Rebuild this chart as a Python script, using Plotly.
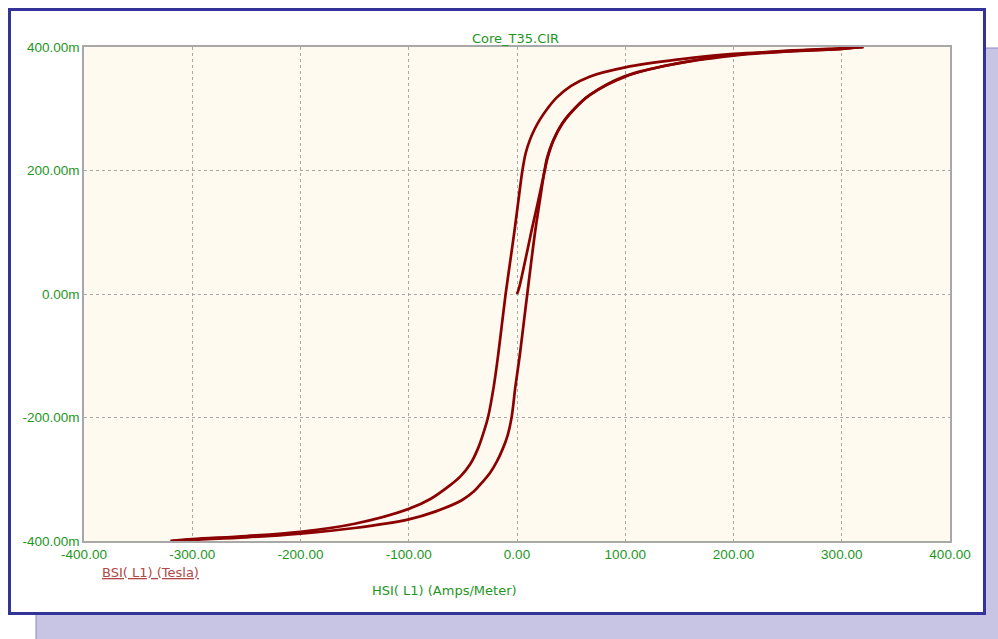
import plotly.graph_objects as go

# ---- data ----
h_initial = [0, 1.8, 7.7, 13.6, 19.5, 25, 28.5, 33.5, 42, 52, 67, 100, 150, 200, 250, 300, 320]
b_initial = [0, 0.009, 0.055, 0.104, 0.150, 0.195, 0.222, 0.248, 0.276, 0.298, 0.322, 0.353, 0.374,
             0.387, 0.394, 0.398, 0.400]

h_desc = [320, 300, 250, 200, 150, 100, 67, 50, 36.6, 28, 21, 16, 12, 8, 5, 1.2, -2.5, -6.5, -10.5,
          -14, -17.5, -21.5, -26.8, -31, -36, -43, -52, -62, -80, -100, -150, -200, -250, -300, -320]
b_desc = [0.400, 0.397, 0.393, 0.389, 0.380, 0.367, 0.352, 0.337, 0.318, 0.300, 0.282, 0.266, 0.250,
          0.228, 0.200, 0.150, 0.100, 0.050, 0.0, -0.050, -0.100, -0.150, -0.200, -0.225, -0.250,
          -0.275, -0.295, -0.310, -0.332, -0.348, -0.372, -0.385, -0.392, -0.397, -0.400]

h_asc = [-320, -300, -250, -200, -150, -100, -75, -51, -40, -32.6, -25, -18.8, -13, -8.5, -5, -1.5,
         2.5, 6, 9.5, 13, 17, 21, 25, 28, 33.5, 42, 52, 67, 100, 144, 200, 250, 300, 320]
b_asc = [-0.400, -0.398, -0.394, -0.388, -0.379, -0.365, -0.352, -0.334, -0.320, -0.306, -0.290,
         -0.272, -0.250, -0.228, -0.200, -0.150, -0.100, -0.050, 0.0, 0.050, 0.104, 0.150, 0.195,
         0.222, 0.249, 0.277, 0.298, 0.322, 0.352, 0.372, 0.386, 0.393, 0.397, 0.400]

x_tickvals = [-400, -300, -200, -100, 0, 100, 200, 300, 400]
x_ticktext = ["-400.00", "-300.00", "-200.00", "-100.00", "0.00", "100.00", "200.00", "300.00", "400.00"]
y_tickvals = [-0.4, -0.2, 0.0, 0.2, 0.4]
y_ticktext = ["-400.00m", "-200.00m", "0.00m", "200.00m", "400.00m"]

title_text = "Core_T35.CIR"
y_label = "BSI( L1) (Tesla)"
x_label = "HSI( L1) (Amps/Meter)"

# ---- layout geometry ----
W, H = 998, 639
L, R, T, B = 84, 950, 47, 541
PW, PH = R - L, B - T


def px(x):
    return (x - L) / PW


def py(y):
    return (B - y) / PH


GREEN = "#1e961e"
CURVE = "#8b0000"

fig = go.Figure()
for hx, by in [(h_initial, b_initial), (h_desc, b_desc), (h_asc, b_asc)]:
    fig.add_trace(go.Scatter(x=hx, y=by, mode="lines",
                             line=dict(color=CURVE, width=2.7, shape="spline", smoothing=1.0),
                             showlegend=False, hoverinfo="skip"))

shapes = [
    # shadow
    dict(type="rect", xref="paper", yref="paper", x0=px(36), x1=px(1005), y0=py(48), y1=py(650),
         fillcolor="#c8c5e4", line=dict(color="#8c88c8", width=1), layer="below"),
    # white panel with blue border
    dict(type="rect", xref="paper", yref="paper", x0=px(9.5), x1=px(984.5), y0=py(9.5), y1=py(613.5),
         fillcolor="white", line=dict(color="#333399", width=3), layer="below"),
    # plot area background
    dict(type="rect", xref="paper", yref="paper", x0=0, x1=1, y0=0, y1=1,
         fillcolor="#fffaef", line=dict(width=0), layer="below"),
]

annotations = [
    dict(text=title_text, xref="paper", yref="paper", x=px(515), y=py(38), showarrow=False,
         xanchor="center", yanchor="middle", font=dict(family="DejaVu Sans", size=13, color=GREEN)),
    dict(text=y_label, xref="paper", yref="paper", x=px(100), y=py(572), showarrow=False,
         xanchor="left", yanchor="middle",
         font=dict(family="DejaVu Sans", size=13, color="#b04848", lineposition="under")),
    dict(text=x_label, xref="paper", yref="paper", x=px(444), y=py(590), showarrow=False,
         xanchor="center", yanchor="middle", font=dict(family="DejaVu Sans", size=13, color=GREEN)),
]

fig.update_layout(
    width=W, height=H,
    margin=dict(l=L, r=W - R, t=T, b=H - B, pad=0),
    paper_bgcolor="white",
    plot_bgcolor="rgba(0,0,0,0)",
    shapes=shapes,
    annotations=annotations,
    xaxis=dict(range=[-400, 400], tickvals=x_tickvals, ticktext=x_ticktext,
               showgrid=True, gridcolor="#a8a8a8", griddash="dot", gridwidth=1,
               zeroline=False, showline=True, linecolor="#a8a8a8", linewidth=1.5, mirror=True,
               ticks="", tickfont=dict(family="Liberation Sans", size=13.5, color=GREEN)),
    yaxis=dict(range=[-0.4, 0.4], tickvals=y_tickvals, ticktext=y_ticktext,
               showgrid=True, gridcolor="#a8a8a8", griddash="dot", gridwidth=1,
               zeroline=False, showline=True, linecolor="#a8a8a8", linewidth=1.5, mirror=True,
               ticks="", tickfont=dict(family="Liberation Sans", size=13.5, color=GREEN)),
)

fig.write_html("out.html")
